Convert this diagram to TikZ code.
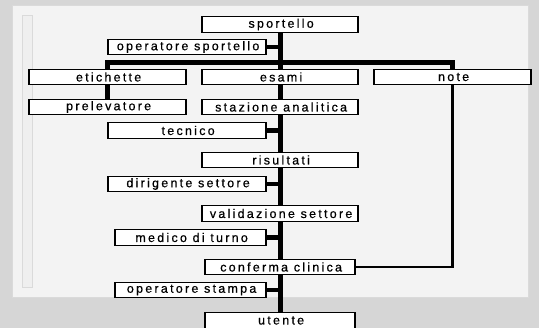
\documentclass[tikz,border=0pt]{standalone}
\usepackage{fontspec}
\setmainfont{Liberation Sans}[LetterSpace=18, FakeBold=0.6]
\pgfdeclarelayer{back}
\pgfdeclarelayer{conn}
\pgfsetlayers{back,conn,main}
\definecolor{marble}{HTML}{D6D6D6}
\definecolor{panel}{HTML}{F3F3F3}
\definecolor{panelline}{HTML}{DADADA}
\definecolor{strip}{HTML}{EFEFEF}
\newcommand{\lbl}[1]{#1\kern-0.18em}
\tikzset{
  box/.style={draw=black, fill=white, line width=1.2pt, inner sep=0pt,
    minimum height=15.5pt, font=\fontsize{12.5}{13}\selectfont},
  spine/.style={line width=5pt, black},
  conn/.style={line width=4.5pt, black, line join=miter},
  thin conn/.style={line width=2.5pt, black, line join=miter},
}
\begin{document}
\begin{tikzpicture}[x=1pt,y=-1pt]
\begin{pgfonlayer}{back}
  \fill[marble] (0,0) rectangle (539,328);
  \filldraw[fill=panel, draw=panelline, line width=0.6pt] (12,5) rectangle (528,297);
  \filldraw[fill=strip, draw=panelline, line width=0.6pt] (22,15) rectangle (32,287);
\end{pgfonlayer}
\useasboundingbox (0,0) rectangle (539,328);

\node[box, minimum width=156pt] (sportello) at (280,24.5) {\lbl{sportello}};
\node[box, minimum width=158pt] (opsport) at (187,47) {\lbl{operatore sportello}};
\node[box, minimum width=157pt] (etichette) at (107.5,77) {\lbl{etichette}};
\node[box, minimum width=156pt] (esami) at (280,77) {\lbl{esami}};
\node[box, minimum width=157pt] (note) at (452.5,77) {\lbl{note}};
\node[box, minimum width=157pt] (prelevatore) at (107.5,107) {\lbl{prelevatore}};
\node[box, minimum width=156pt] (stazione) at (280,107) {\lbl{stazione analitica}};
\node[box, minimum width=158pt] (tecnico) at (187,130.5) {\lbl{tecnico}};
\node[box, minimum width=156pt] (risultati) at (280,160) {\lbl{risultati}};
\node[box, minimum width=158pt] (dirigente) at (187,184) {\lbl{dirigente settore}};
\node[box, minimum width=156pt] (validazione) at (280,213.5) {\lbl{validazione settore}};
\node[box, minimum width=151pt] (medico) at (190.5,237.5) {\lbl{medico di turno}};
\node[box, minimum width=150pt] (conferma) at (280,267) {\lbl{conferma clinica}};
\node[box, minimum width=151pt] (opstampa) at (190.5,290) {\lbl{operatore stampa}};
\node[box, minimum width=150pt] (utente) at (280,320.5) {\lbl{utente}};

\coordinate (busL) at (107.5,62.5);

\begin{pgfonlayer}{conn}
  \draw[spine] (sportello.south) -- (utente.north);
  \draw[conn] (opsport.east) -- (opsport.east -| sportello.south);
  \draw[conn] (tecnico.east) -- (tecnico.east -| sportello.south);
  \draw[conn] (dirigente.east) -- (dirigente.east -| sportello.south);
  \draw[conn] (medico.east) -- (medico.east -| sportello.south);
  \draw[conn] (opstampa.east) -- (opstampa.east -| sportello.south);
  \draw[conn] (etichette.north) -- (busL) -| (note.north);
  \draw[conn] (etichette.south) -- (prelevatore.north);
  \draw[thin conn] (note.south) |- (conferma.east);
\end{pgfonlayer}
\end{tikzpicture}
\end{document}
